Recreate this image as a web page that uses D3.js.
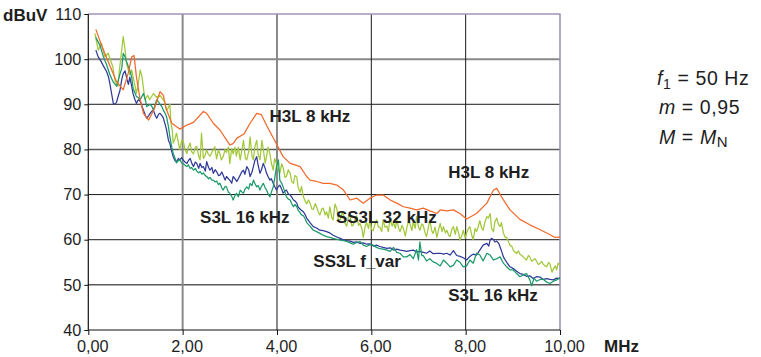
<!DOCTYPE html>
<html><head><meta charset="utf-8">
<script src="https://cdn.jsdelivr.net/npm/d3@7"></script>
<style>
html,body{margin:0;padding:0;background:#fff;}
svg{display:block;font-family:"Liberation Sans",Arial,Helvetica,sans-serif;}
</style></head>
<body><svg id="c" width="761" height="357"></svg>
<script>
// ---- data (MHz, dBuV) ----
const xTicks = [0, 2, 4, 6, 8, 10];
const yTicks = [40, 50, 60, 70, 80, 90, 100, 110];
const xUnit = "MHz";
const yUnit = "dBuV";

const h3l8 = [[0.16,106.6],[0.3,102.5],[0.46,98.5],[0.6,95],[0.74,93.2],[0.85,97],[0.92,100.5],[0.97,100.8],[1.02,96.1],[1.1,91],[1.17,88],[1.28,86.5],[1.4,89],[1.52,92.8],[1.59,92],[1.65,89],[1.77,85.8],[1.94,84.5],[2.09,85.4],[2.23,86],[2.44,88.4],[2.51,88],[2.65,85.8],[2.79,84.3],[3.0,81],[3.07,81.3],[3.15,82.5],[3.3,83.4],[3.43,85.8],[3.57,88],[3.67,87.7],[3.78,85.3],[3.99,81.2],[4.13,78.4],[4.28,76.9],[4.49,76.2],[4.63,74],[4.7,73.2],[4.84,72.9],[4.98,72.5],[5.12,72.5],[5.27,72.1],[5.41,71],[5.55,68.8],[5.69,69.2],[5.83,68.1],[5.97,69.2],[6.11,69.9],[6.25,69.9],[6.4,68.8],[6.54,68.1],[6.68,67.3],[6.82,67],[6.96,66.6],[7.1,67],[7.24,66.4],[7.39,65.8],[7.46,66.6],[7.6,66.4],[7.74,66.6],[7.88,65.8],[8.02,64.6],[8.23,65.8],[8.45,68.1],[8.59,71],[8.66,71.4],[8.76,69.5],[8.94,66.6],[9.15,64.5],[9.36,63.3],[9.58,62.2],[9.79,61.1],[9.89,60.5],[10.0,60.6]];

const ss3l32 = [[0.14,105.7],[0.21,102],[0.28,103.5],[0.35,100.5],[0.42,101.3],[0.52,98.3],[0.57,95],[0.63,94],[0.66,97.6],[0.74,105],[0.78,102],[0.81,99],[0.88,96.5],[0.92,97.6],[0.98,94.6],[1.02,92.4],[1.06,94.6],[1.1,97.6],[1.14,96],[1.2,91],[1.26,92],[1.3,91],[1.38,92.4],[1.45,91.5],[1.52,92],[1.59,91],[1.62,90.5],[1.66,88.7],[1.69,89.1],[1.73,90],[1.75,86],[1.78,84.3],[1.8,81.4],[1.84,82.5],[1.87,83.6],[1.91,81.5],[1.94,79.9],[1.98,82],[2.01,82],[2.05,80],[2.09,79.1],[2.12,80.5],[2.16,81.4],[2.19,79.5],[2.23,79],[2.27,80.5],[2.3,80.7],[2.34,78.5],[2.37,77.7],[2.4,83.6],[2.44,78],[2.47,78.5],[2.51,79.9],[2.54,79],[2.58,78.5],[2.65,80],[2.68,80.6],[2.72,77.9],[2.76,79.9],[2.79,79],[2.82,77.7],[2.86,78.4],[2.9,80],[2.93,79.3],[2.97,80.5],[3.0,76.9],[3.04,80.2],[3.07,79],[3.11,80.5],[3.14,78.5],[3.18,80.5],[3.22,77.7],[3.25,79.5],[3.29,82],[3.33,78],[3.36,77.7],[3.4,79.5],[3.43,82.8],[3.47,78.5],[3.5,77.7],[3.53,80.5],[3.57,82],[3.6,79],[3.64,77.7],[3.68,82],[3.71,80],[3.75,76.9],[3.78,78.5],[3.81,80.5],[3.85,79.1],[3.88,77],[3.92,75.4],[3.95,78],[3.99,76.8],[4.03,75.5],[4.06,74.7],[4.1,76.8],[4.13,76],[4.17,73.8],[4.2,74],[4.24,75.5],[4.28,74.7],[4.31,73],[4.35,72.5],[4.38,74.2],[4.42,73.9],[4.45,71.5],[4.49,70.5],[4.52,71.8],[4.56,69.5],[4.6,68.5],[4.63,68],[4.67,68.8],[4.7,68.1],[4.74,66.8],[4.77,66.7],[4.81,68],[4.84,67.3],[4.88,66],[4.91,65.5],[4.95,66.8],[4.98,67],[5.02,65.5],[5.05,66.2],[5.09,64.8],[5.12,67.3],[5.16,65],[5.19,64.4],[5.23,67.9],[5.27,66.8],[5.3,64.5],[5.34,64.4],[5.38,66],[5.41,65.5],[5.45,63.5],[5.48,63],[5.52,65.5],[5.55,65.1],[5.59,63],[5.62,63.3],[5.66,64.8],[5.69,65.3],[5.73,63.2],[5.76,63.6],[5.8,62.5],[5.83,60.5],[5.87,63],[5.9,63.8],[5.94,62.5],[5.97,64.4],[6.01,62.2],[6.04,62],[6.08,63.5],[6.11,64.4],[6.15,62.8],[6.18,62.8],[6.22,61.8],[6.25,64.4],[6.29,62.8],[6.33,63],[6.36,61.8],[6.4,64.7],[6.44,63],[6.47,63.8],[6.51,62.5],[6.54,64.4],[6.58,62.5],[6.61,61.8],[6.65,63.2],[6.68,62.5],[6.72,60.8],[6.75,62.5],[6.79,64.2],[6.82,63.5],[6.86,62],[6.89,64],[6.93,62.5],[6.96,65.1],[7.0,62.8],[7.03,62.1],[7.07,63.5],[7.1,63.2],[7.14,61.5],[7.17,60.7],[7.21,62.8],[7.24,64.4],[7.28,62],[7.31,61.4],[7.35,62.8],[7.39,60.5],[7.42,62],[7.46,63.6],[7.5,61.8],[7.53,62.9],[7.57,61.5],[7.6,62.1],[7.64,61],[7.67,60.7],[7.71,62.4],[7.74,62.9],[7.78,61.2],[7.81,62.9],[7.85,61.5],[7.88,59.9],[7.92,61],[7.95,62.1],[7.99,60.4],[8.02,61.5],[8.06,62.5],[8.09,62.9],[8.13,61],[8.16,60],[8.2,62.5],[8.23,61.8],[8.27,63],[8.3,64.2],[8.34,62.5],[8.37,62.1],[8.41,64],[8.45,65.1],[8.48,64.8],[8.52,65.8],[8.55,62.5],[8.59,61.8],[8.62,64],[8.66,64.8],[8.69,63.5],[8.73,62.9],[8.76,63.8],[8.8,61.5],[8.84,60.5],[8.87,60.5],[8.91,59.5],[8.94,58.8],[8.98,58.5],[9.01,57.7],[9.05,57.2],[9.08,57],[9.12,57.5],[9.15,56.8],[9.19,56.5],[9.22,56.2],[9.26,55.8],[9.29,55.5],[9.33,56.5],[9.36,56.2],[9.4,55.2],[9.43,55.5],[9.47,55.8],[9.5,55.3],[9.54,54.5],[9.58,54.8],[9.61,55.2],[9.65,54.5],[9.68,54.2],[9.72,54],[9.76,55],[9.79,54.5],[9.83,52.8],[9.86,53.5],[9.9,54.2],[9.93,53.3],[9.96,54.8],[10.0,54.4]];

const s3l16 = [[0.16,102],[0.21,100.5],[0.27,99.5],[0.32,98.5],[0.39,97.2],[0.43,96],[0.46,94.4],[0.5,92],[0.53,90.2],[0.57,90],[0.6,90.5],[0.64,92],[0.67,93],[0.71,95.5],[0.74,96.8],[0.78,97.4],[0.82,95.5],[0.85,94.4],[0.88,96],[0.92,94],[0.95,92.3],[0.99,91],[1.02,90.2],[1.06,91],[1.1,90.7],[1.14,89.5],[1.17,88.7],[1.21,87.5],[1.24,86.9],[1.28,87.5],[1.31,88],[1.35,88.5],[1.38,88.7],[1.42,87.5],[1.45,86.9],[1.49,87.8],[1.52,88],[1.56,87.5],[1.59,87],[1.63,85.5],[1.66,84.3],[1.7,82],[1.73,81.3],[1.77,79.5],[1.8,78.4],[1.84,77.5],[1.87,77.3],[1.91,78],[1.94,77.7],[1.98,78.2],[2.01,77.7],[2.05,77.2],[2.09,76.9],[2.12,77.5],[2.16,78],[2.2,76.8],[2.23,76.2],[2.27,77.2],[2.3,76.9],[2.34,75.8],[2.37,76.9],[2.41,76],[2.44,76.2],[2.48,75.2],[2.51,77.3],[2.55,76],[2.58,75.4],[2.62,76],[2.65,74.7],[2.69,75.5],[2.72,75.1],[2.76,74.2],[2.79,74.3],[2.83,75],[2.86,74.3],[2.9,73.2],[2.93,74],[2.97,73.5],[3.0,73.2],[3.04,72.5],[3.07,74],[3.11,73.5],[3.15,72.9],[3.18,73.5],[3.22,74.3],[3.25,75],[3.29,75.4],[3.32,74.5],[3.36,76.2],[3.4,75.5],[3.43,74],[3.47,75],[3.5,76.2],[3.53,77.5],[3.57,78.4],[3.6,76.5],[3.64,74.7],[3.67,75.5],[3.71,76.9],[3.75,75.8],[3.78,74.7],[3.81,74],[3.85,73.2],[3.88,73.5],[3.92,72.5],[3.95,71.8],[3.99,71],[4.03,71.8],[4.06,72.1],[4.1,71.2],[4.13,70.3],[4.17,70.8],[4.2,71],[4.24,70.2],[4.28,69.9],[4.31,69.5],[4.35,68.8],[4.38,68.6],[4.42,68.1],[4.45,67.2],[4.49,66.8],[4.52,66.5],[4.56,66.2],[4.6,65.5],[4.63,64.8],[4.7,63.8],[4.77,62.9],[4.84,62.6],[4.91,62.1],[4.98,62],[5.05,61.8],[5.12,61.5],[5.19,61],[5.27,60.6],[5.34,60.3],[5.41,60],[5.48,59.8],[5.55,59.7],[5.62,59.4],[5.69,59.5],[5.76,59.2],[5.83,59.3],[5.9,59],[5.97,59.1],[6.04,58.6],[6.11,58.8],[6.18,58.5],[6.25,58.3],[6.33,58.1],[6.4,58.2],[6.47,57.7],[6.54,57.9],[6.61,57.7],[6.68,57.6],[6.75,57.4],[6.82,57.6],[6.89,57.7],[6.96,57.3],[7.03,57.4],[7.1,57.2],[7.17,57],[7.24,57.5],[7.31,56.9],[7.39,57],[7.46,57],[7.53,56.8],[7.6,57],[7.67,56.6],[7.74,57.6],[7.81,56.5],[7.88,56.3],[7.95,56],[8.02,55.5],[8.09,56.3],[8.13,56.6],[8.16,56.8],[8.23,56.6],[8.3,57.7],[8.37,58.8],[8.45,59.2],[8.49,58.6],[8.52,60],[8.55,60.3],[8.59,60],[8.62,59.5],[8.66,59.7],[8.7,59.2],[8.73,58.4],[8.77,57.2],[8.8,56.2],[8.84,55.5],[8.87,55],[8.94,54],[9.01,53.6],[9.08,53],[9.15,52.5],[9.22,52.3],[9.29,51.9],[9.36,52],[9.43,51.4],[9.5,51.8],[9.58,51.7],[9.65,51.2],[9.72,51.4],[9.79,51.2],[9.86,51.1],[9.93,51.5],[10.0,51.4]];

const ss3lVar = [[0.16,104.8],[0.2,104],[0.25,103],[0.32,100.5],[0.39,98.7],[0.46,96.5],[0.53,94.9],[0.6,94],[0.64,95.5],[0.68,97],[0.71,98],[0.74,101.3],[0.78,100.5],[0.81,99.5],[0.85,98.3],[0.88,97.5],[0.92,96],[0.95,93.5],[0.99,92.5],[1.02,91.7],[1.06,91.5],[1.1,91],[1.14,91.8],[1.17,92.4],[1.21,91],[1.24,89.5],[1.28,89.8],[1.31,90],[1.35,89.5],[1.38,88.7],[1.42,90],[1.45,91],[1.49,90.5],[1.52,90],[1.56,89.5],[1.59,88.7],[1.63,88],[1.66,87.2],[1.7,85],[1.73,82.8],[1.77,80.5],[1.8,79.1],[1.84,78],[1.87,77],[1.91,77.5],[1.94,77.7],[1.98,77],[2.02,76.8],[2.05,76.5],[2.09,76.2],[2.12,76.6],[2.16,75.8],[2.19,76],[2.23,75.4],[2.27,75.8],[2.3,75.2],[2.34,74.8],[2.37,75.1],[2.41,74.5],[2.44,74.8],[2.48,74.2],[2.51,74],[2.55,73.5],[2.58,73.8],[2.62,73.2],[2.65,73.2],[2.69,72.8],[2.72,73],[2.76,72.2],[2.79,72.5],[2.83,71.5],[2.86,71],[2.9,71.8],[2.93,71.7],[2.97,70.5],[3.0,70.3],[3.04,69.6],[3.07,68.8],[3.11,69.8],[3.14,70.3],[3.18,69.5],[3.22,71],[3.25,70.6],[3.29,70.3],[3.32,71.2],[3.36,71.7],[3.4,71.2],[3.43,72.5],[3.47,72],[3.5,73.2],[3.53,72.5],[3.57,71.7],[3.6,72],[3.64,71],[3.67,71.8],[3.71,72.5],[3.75,71.5],[3.78,71],[3.81,70.2],[3.85,69.5],[3.88,70.5],[3.92,71.7],[3.95,73.5],[3.99,76.2],[4.03,77.7],[4.06,73.2],[4.1,72.5],[4.13,71.7],[4.17,70.5],[4.2,69.5],[4.24,69],[4.28,68.8],[4.31,68],[4.35,67.3],[4.38,67.8],[4.42,67.3],[4.45,66.5],[4.49,66],[4.52,65.5],[4.56,65.3],[4.6,64.6],[4.63,63.8],[4.7,63],[4.77,62.1],[4.84,61.8],[4.91,61.4],[4.98,61],[5.05,60.7],[5.12,60.5],[5.19,60.3],[5.27,60.1],[5.34,59.9],[5.41,59.8],[5.48,59.6],[5.55,59.3],[5.62,59],[5.69,59.4],[5.76,59.6],[5.83,58.8],[5.9,58.5],[5.97,58.9],[6.04,58.8],[6.11,58.3],[6.18,58],[6.25,57.9],[6.33,57.7],[6.4,57.4],[6.47,58.3],[6.54,57.2],[6.61,57],[6.68,56.2],[6.75,56.2],[6.82,56.7],[6.89,55.8],[6.96,57.8],[7.0,55.5],[7.03,59.5],[7.07,56.5],[7.1,56.5],[7.17,55.3],[7.24,55.8],[7.31,55.1],[7.38,54.8],[7.46,54.2],[7.53,55.5],[7.6,54.8],[7.67,54],[7.74,54.3],[7.81,55.5],[7.88,55],[7.95,54],[8.02,54.2],[8.09,55.5],[8.16,54.8],[8.23,57],[8.3,56.6],[8.37,55.3],[8.45,57],[8.52,56.6],[8.59,55.5],[8.66,55.8],[8.73,56.2],[8.8,54.8],[8.87,54],[8.94,53.3],[9.01,53.3],[9.08,52.5],[9.15,51.8],[9.22,52.2],[9.29,52.5],[9.36,51.1],[9.4,49.8],[9.45,51.5],[9.5,50.8],[9.58,51.2],[9.65,51.2],[9.72,50.6],[9.79,50.3],[9.86,50.8],[9.93,51.1],[10.0,51.6]];

const seriesNames = ["SS3L 32 kHz", "S3L 16 kHz", "SS3L f_var", "H3L 8 kHz"];
const seriesData  = [ss3l32, s3l16, ss3lVar, h3l8];
const seriesColors = ["#a2c83a", "#2f3a98", "#1c9a6a", "#f2692a"];

// labels: text, x-value (MHz), y-value (dBuV) of baseline start
const labelTexts = ["H3L 8 kHz", "H3L 8 kHz", "S3L 16 kHz", "SS3L 32 kHz", "SS3L f_var", "S3L 16 kHz"];
const labelX = [3.84, 7.63, 2.37, 5.25, 4.77, 7.63];
const labelY = [86.1, 73.6, 63.6, 63.6, 53.9, 46.4];

// ---- drawing ----
const svg = d3.select("#c");
const L = 88.3, R = 560, T = 14, B = 330;
const x = d3.scaleLinear().domain([0, 10]).range([L, R]);
const y = d3.scaleLinear().domain([40, 110]).range([B, T]);
const FONT = '"Liberation Sans",Arial,Helvetica,sans-serif';
const txt = "#1e1e1e";

// gridlines
const hStyle = v => v === 100 ? ["#8a8a8a", 2] : (v === 80 || v === 50) ? ["#5a5a5a", 1.5] : ["#1a1a1a", 1];
const vStyle = v => (v === 2 || v === 4) ? ["#8a8a8a", 2] : ["#1a1a1a", 1];
svg.append("g").selectAll("line").data(yTicks.filter(v => v > 40 && v < 110)).join("line")
  .attr("x1", L).attr("x2", R).attr("y1", d => y(d)).attr("y2", d => y(d))
  .attr("stroke", d => hStyle(d)[0]).attr("stroke-width", d => hStyle(d)[1]);
svg.append("g").selectAll("line").data(xTicks.filter(v => v > 0 && v < 10)).join("line")
  .attr("y1", T).attr("y2", B).attr("x1", d => x(d)).attr("x2", d => x(d))
  .attr("stroke", d => vStyle(d)[0]).attr("stroke-width", d => vStyle(d)[1]);

// top & right frame
svg.append("line").attr("x1", L).attr("x2", R + 0.5).attr("y1", y(110)).attr("y2", y(110)).attr("stroke", "#a193b5").attr("stroke-width", 1.6);
svg.append("line").attr("x1", x(10)).attr("x2", x(10)).attr("y1", T).attr("y2", B).attr("stroke", "#a193b5").attr("stroke-width", 1.6);

// series
const line = d3.line().x(d => x(d[0])).y(d => y(d[1]));
const gS = svg.append("g");
seriesData.forEach((s, i) => {
  gS.append("path").datum(s).attr("d", line).attr("fill", "none")
    .attr("stroke", seriesColors[i]).attr("stroke-width", 1.25).attr("stroke-linejoin", "round");
});

// axes
const fmt = v => d3.format(".2f")(v).replace(".", ",");
const xAxis = svg.append("g").attr("transform", `translate(0,${B})`)
  .call(d3.axisBottom(x).tickValues(xTicks).tickFormat(fmt).tickSize(5).tickPadding(5));
const yAxis = svg.append("g").attr("transform", `translate(${L},0)`)
  .call(d3.axisLeft(y).tickValues(yTicks).tickSize(4).tickPadding(3));
[xAxis, yAxis].forEach(a => {
  a.select(".domain").attr("stroke", "#111").attr("stroke-width", 1.2);
  a.selectAll(".tick line").attr("stroke", "#111");
  a.selectAll("text").attr("font-family", FONT).attr("font-size", 16.3).attr("fill", txt);
});
xAxis.selectAll("text").attr("dx", 4);
yAxis.select(".domain").attr("d", `M0,${B}V${T}`);
xAxis.select(".domain").attr("d", `M${L},0H${R}`);

// unit labels
svg.append("text").attr("x", 3).attr("y", 20.5).text(yUnit)
  .attr("font-family", FONT).attr("font-weight", "bold").attr("font-size", 17).attr("fill", txt);
svg.append("text").attr("x", 604).attr("y", 351.5).text(xUnit)
  .attr("font-family", FONT).attr("font-weight", "bold").attr("font-size", 17).attr("fill", txt);

// series labels
svg.append("g").selectAll("text").data(labelTexts).join("text")
  .attr("x", (d, i) => x(labelX[i])).attr("y", (d, i) => y(labelY[i]))
  .text(d => d).attr("font-family", FONT).attr("font-weight", "bold")
  .attr("font-size", 17).attr("fill", txt);

// parameter box
const P = svg.append("g").attr("font-family", FONT).attr("font-size", 19.5)
  .attr("letter-spacing", 0.6).attr("fill", txt);
const l1 = P.append("text").attr("x", 657).attr("y", 85);
l1.append("tspan").attr("font-style", "italic").text("f");
l1.append("tspan").attr("font-size", 14).attr("dy", 4).text("1");
l1.append("tspan").attr("dy", -4).text(" = 50 Hz");
const l2 = P.append("text").attr("x", 659).attr("y", 114);
l2.append("tspan").attr("font-style", "italic").text("m");
l2.append("tspan").text(" = 0,95");
const l3 = P.append("text").attr("x", 659).attr("y", 144);
l3.append("tspan").attr("font-style", "italic").text("M");
l3.append("tspan").text(" = ");
l3.append("tspan").attr("font-style", "italic").text("M");
l3.append("tspan").attr("font-size", 15).attr("dy", 3).text("N");
</script></body></html>
